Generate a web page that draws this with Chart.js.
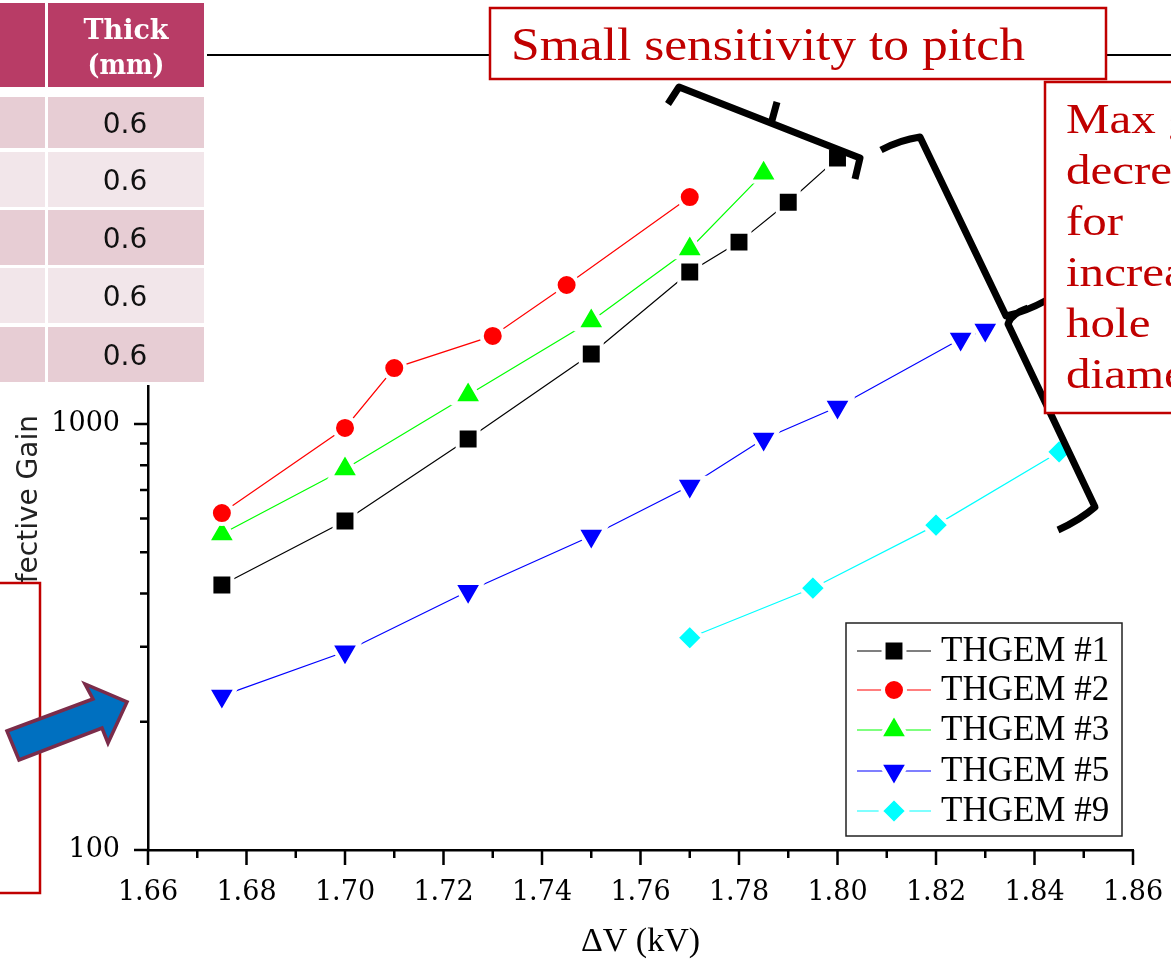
<!DOCTYPE html>
<html>
<head>
<meta charset="utf-8">
<script src="https://cdn.jsdelivr.net/npm/chart.js@4.4.0/dist/chart.umd.min.js"></script>
<style>
    html, body { margin: 0; padding: 0; background: #fff; overflow: hidden; }
    #gainChart { display: block; }
</style>
</head>
<body>
<canvas id="gainChart" width="1171" height="964"></canvas>
<script>
// values (x = ΔV in kV, y = effective gain)
const thgem1X = [1.675, 1.70, 1.725, 1.75, 1.77, 1.78, 1.79, 1.80];
const thgem1Gain = [419, 592, 922, 1460, 2275, 2673, 3317, 4210];
const thgem2X = [1.675, 1.70, 1.71, 1.73, 1.745, 1.77];
const thgem2Gain = [618, 979, 1353, 1610, 2120, 3410];
const thgem3X = [1.675, 1.70, 1.725, 1.75, 1.77, 1.785];
const thgem3Gain = [552, 784, 1170, 1745, 2576, 3880];
const thgem5X = [1.675, 1.70, 1.725, 1.75, 1.77, 1.785, 1.80, 1.825, 1.83];
const thgem5Gain = [230, 292, 405, 546, 715, 922, 1096, 1583, 1663];
const thgem9X = [1.77, 1.795, 1.82, 1.845];
const thgem9Gain = [315, 412, 579, 860];

const seriesNames = ['THGEM #1', 'THGEM #2', 'THGEM #3', 'THGEM #5', 'THGEM #9'];

const xMajorTicks = [1.66, 1.68, 1.70, 1.72, 1.74, 1.76, 1.78, 1.80, 1.82, 1.84, 1.86];
const xMinorTicks = [1.67, 1.69, 1.71, 1.73, 1.75, 1.77, 1.79, 1.81, 1.83, 1.85];
const yMajorTicks = [100, 1000];
const yMinorTicks = [200, 300, 400, 500, 600, 700, 800, 900, 2000, 3000, 4000, 5000, 6000, 7000];

const tableHeader = ['', 'Thick', '(mm)'];
const tableThick = ['0.6', '0.6', '0.6', '0.6', '0.6'];

const noteTop = 'Small sensitivity to pitch';
const noteRight = ['Max gain', 'decreases', 'for', 'increasing', 'hole', 'diameter'];

function toPoints(xs, ys) {
    return xs.map((x, i) => ({ x: x, y: ys[i] }));
}

function fitText(ctx, txt, x, y, font, width, align) {
    ctx.save();
    ctx.font = font;
    const w = ctx.measureText(txt).width;
    ctx.translate(x, y);
    ctx.scale(width / w, 1);
    ctx.textAlign = align || 'left';
    ctx.fillText(txt, 0, 0);
    ctx.restore();
}

const darkRed = '#c00000';
const gapWidth = 4; // white rim round markers, like the gaps Origin leaves

const slidePlugin = {
    id: 'slideOverlay',
    afterDraw(chart) {
        const ctx = chart.ctx;
        const xs = chart.scales.x;
        const ys = chart.scales.y;
        const area = chart.chartArea;

        // tick marks, outward
        ctx.save();
        ctx.strokeStyle = '#000';
        ctx.lineWidth = 2.5;
        ctx.beginPath();
        xMajorTicks.forEach(v => {
            const px = xs.getPixelForValue(v);
            ctx.moveTo(px, area.bottom); ctx.lineTo(px, area.bottom + 15);
        });
        xMinorTicks.forEach(v => {
            const px = xs.getPixelForValue(v);
            ctx.moveTo(px, area.bottom); ctx.lineTo(px, area.bottom + 8);
        });
        yMajorTicks.forEach(v => {
            const py = ys.getPixelForValue(v);
            ctx.moveTo(area.left, py); ctx.lineTo(area.left - 14, py);
        });
        yMinorTicks.forEach(v => {
            const py = ys.getPixelForValue(v);
            ctx.moveTo(area.left, py); ctx.lineTo(area.left - 8, py);
        });
        ctx.stroke();
        ctx.restore();

        // y axis title
        ctx.save();
        ctx.translate(37, 415);
        ctx.rotate(-Math.PI / 2);
        ctx.fillStyle = '#222';
        ctx.font = '28px "DejaVu Sans"';
        ctx.textAlign = 'right';
        ctx.textBaseline = 'alphabetic';
        ctx.fillText('Effective Gain', 0, 0);
        ctx.restore();

        // brackets
        ctx.save();
        ctx.strokeStyle = '#000';
        ctx.lineWidth = 7;
        ctx.lineJoin = 'round';
        ctx.beginPath();
        ctx.moveTo(668, 104); ctx.lineTo(679, 87); ctx.lineTo(860, 158); ctx.lineTo(855, 179);
        ctx.moveTo(771, 124); ctx.lineTo(777, 102);
        ctx.moveTo(881, 150); ctx.quadraticCurveTo(900, 140, 920, 137);
        ctx.lineTo(1006, 316); ctx.quadraticCurveTo(1025, 312, 1047, 300);
        ctx.moveTo(1028, 308); ctx.quadraticCurveTo(1011, 314, 1008, 324);
        ctx.lineTo(1095, 507); ctx.quadraticCurveTo(1080, 520, 1058, 530);
        ctx.stroke();
        ctx.restore();

        // slide title rule
        ctx.save();
        ctx.strokeStyle = '#000';
        ctx.lineWidth = 2;
        ctx.beginPath();
        ctx.moveTo(205, 55); ctx.lineTo(1171, 55);
        ctx.stroke();
        ctx.restore();

        // table
        const rowsY = [[97, 148], [152, 207], [210, 265], [268, 323], [327, 382]];
        ctx.save();
        ctx.fillStyle = '#fff';
        ctx.fillRect(0, 0, 207, 385);
        ctx.fillStyle = '#b83c66';
        ctx.fillRect(0, 3, 45, 84);
        ctx.fillRect(48, 3, 156, 84);
        rowsY.forEach((r, i) => {
            ctx.fillStyle = i % 2 === 0 ? '#e7cdd4' : '#f2e6ea';
            ctx.fillRect(0, r[0], 45, r[1] - r[0]);
            ctx.fillRect(48, r[0], 156, r[1] - r[0]);
        });
        ctx.fillStyle = '#fff';
        fitText(ctx, tableHeader[1], 126, 39, 'bold 27px "DejaVu Serif"', 85, 'center');
        fitText(ctx, tableHeader[2], 126, 74, 'bold 27px "DejaVu Serif"', 77, 'center');
        ctx.fillStyle = '#111';
        ctx.font = '28px "DejaVu Sans"';
        ctx.textAlign = 'center';
        tableThick.forEach((t, i) => {
            const mid = (rowsY[i][0] + rowsY[i][1]) / 2;
            ctx.fillText(t, 125, mid + 10);
        });
        ctx.restore();

        // note boxes
        ctx.save();
        ctx.strokeStyle = darkRed;
        ctx.lineWidth = 2.5;
        ctx.fillStyle = '#fff';
        ctx.fillRect(490, 8, 616, 71);
        ctx.strokeRect(490, 8, 616, 71);
        ctx.fillRect(1045, 82, 140, 331);
        ctx.strokeRect(1045, 82, 140, 331);
        ctx.fillRect(-10, 583, 50, 310);
        ctx.strokeRect(-10, 583, 50, 310);
        ctx.fillStyle = darkRed;
        fitText(ctx, noteTop, 511, 60, '46px "Liberation Serif"', 514, 'left');
        ctx.font = '43px "Liberation Serif"';
        noteRight.forEach((line, i) => {
            ctx.save();
            ctx.translate(1066, 133 + i * 51);
            ctx.scale(1.14, 1);
            ctx.fillText(line, 0, 0);
            ctx.restore();
        });
        ctx.restore();

        // arrow
        ctx.save();
        ctx.beginPath();
        ctx.moveTo(7, 731); ctx.lineTo(93, 699); ctx.lineTo(85, 684); ctx.lineTo(127, 702);
        ctx.lineTo(108, 743); ctx.lineTo(102, 728); ctx.lineTo(19, 760);
        ctx.closePath();
        ctx.fillStyle = '#0070c0';
        ctx.fill();
        ctx.strokeStyle = '#7b2c4a';
        ctx.lineWidth = 3.5;
        ctx.lineJoin = 'miter';
        ctx.stroke();
        ctx.restore();

        // legend
        ctx.save();
        ctx.fillStyle = '#fff';
        ctx.fillRect(846, 623, 276, 213);
        ctx.strokeStyle = '#222';
        ctx.lineWidth = 1.5;
        ctx.strokeRect(846, 623, 276, 213);
        const rowY = [651, 690, 730, 771, 811];
        chart.data.datasets.forEach((ds, i) => {
            const y = rowY[i];
            ctx.strokeStyle = ds.borderColor;
            ctx.lineWidth = 1.2;
            ctx.beginPath();
            ctx.moveTo(857, y); ctx.lineTo(931, y);
            ctx.stroke();
            ctx.fillStyle = ds.pointBackgroundColor;
            ctx.strokeStyle = '#fff';
            ctx.lineWidth = gapWidth;
            ctx.lineJoin = 'round';
            Chart.helpers.drawPoint(ctx, {
                pointStyle: ds.pointStyle,
                rotation: ds.pointRotation || 0,
                radius: ds.pointRadius,
                borderWidth: gapWidth
            }, 894, y);
            ctx.fillStyle = '#000';
            ctx.font = '35px "Liberation Serif"';
            ctx.textAlign = 'left';
            ctx.textBaseline = 'middle';
            ctx.fillText(ds.label, 941, y + 1);
        });
        ctx.restore();
    }
};

const seriesX = [thgem1X, thgem2X, thgem3X, thgem5X, thgem9X];
const seriesY = [thgem1Gain, thgem2Gain, thgem3Gain, thgem5Gain, thgem9Gain];
const colors = ['#000000', '#ff0000', '#00ff00', '#0000ff', '#00ffff'];
const styles = ['rect', 'circle', 'triangle', 'triangle', 'rectRot'];
const rotations = [0, 0, 0, 180, 0];
// radius includes the white rim
const radii = [14.8, 11, 16.5, 16.5, 13.5];

const datasets = seriesNames.map((name, i) => ({
    label: name,
    data: toPoints(seriesX[i], seriesY[i]),
    borderColor: colors[i],
    backgroundColor: colors[i],
    pointBackgroundColor: colors[i],
    pointBorderColor: '#ffffff',
    pointBorderWidth: gapWidth,
    pointStyle: styles[i],
    pointRotation: rotations[i],
    pointRadius: radii[i],
    borderWidth: 1.2,
    tension: 0
}));

const config = {
    type: 'line',
    data: { datasets: datasets },
    options: {
        responsive: false,
        devicePixelRatio: 1,
        animation: false,
        layout: { padding: { top: 55, right: 38, left: 0, bottom: 0 } },
        plugins: {
            legend: { display: false },
            tooltip: { enabled: false }
        },
        scales: {
            x: {
                type: 'linear',
                min: 1.66,
                max: 1.86,
                afterBuildTicks(scale) {
                    scale.ticks = xMajorTicks.map(v => ({ value: v }));
                },
                afterFit(scale) {
                    scale.height = 114;
                    scale.paddingLeft = 0;
                    scale.paddingRight = 0;
                },
                grid: { display: false },
                border: { display: true, color: '#000', width: 2.5 },
                ticks: {
                    color: '#000',
                    padding: 19,
                    maxRotation: 0,
                    autoSkip: false,
                    font: { family: 'DejaVu Serif', size: 27 },
                    callback: v => v.toFixed(2)
                },
                title: {
                    display: true,
                    text: 'ΔV (kV)',
                    color: '#000',
                    font: { family: 'Liberation Serif', size: 34 },
                    padding: { top: 0, bottom: 2 }
                }
            },
            y: {
                type: 'logarithmic',
                min: 100,
                max: 7350,
                afterBuildTicks(scale) {
                    scale.ticks = yMajorTicks.map(v => ({ value: v }));
                },
                afterFit(scale) {
                    scale.width = 148;
                    scale.paddingTop = 0;
                    scale.paddingBottom = 0;
                },
                grid: { display: false },
                border: { display: true, color: '#000', width: 2.5 },
                ticks: {
                    color: '#000',
                    padding: 20,
                    autoSkip: false,
                    font: { family: 'DejaVu Serif', size: 27 },
                    callback: v => String(v)
                }
            }
        }
    },
    plugins: [slidePlugin]
};

new Chart(document.getElementById('gainChart'), config);
</script>
</body>
</html>
